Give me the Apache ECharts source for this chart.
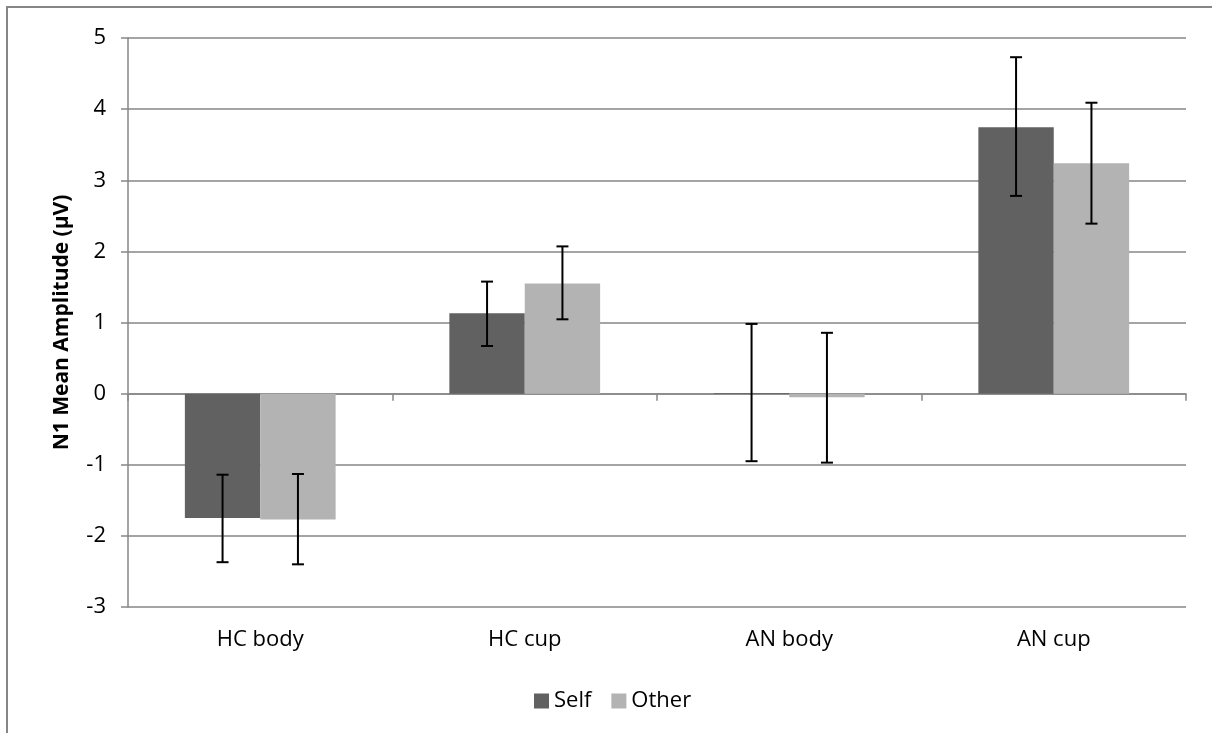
<!DOCTYPE html>
<html>
<head>
<meta charset="utf-8">
<script src="https://cdn.jsdelivr.net/npm/echarts@6/dist/echarts.min.js"></script>
<style>
html,body{margin:0;padding:0;background:#fff;}
#c{width:1212px;height:733px;}
</style>
</head>
<body>
<div id="c"></div>
<script>
const categories = ['HC body', 'HC cup', 'AN body', 'AN cup'];
const selfValues = [-1.75, 1.13, 0.01, 3.745];
const otherValues = [-1.77, 1.55, -0.05, 3.24];
const selfErrLow = [-2.37, 0.67, -0.95, 2.78];
const selfErrHigh = [-1.14, 1.575, 0.98, 4.73];
const otherErrLow = [-2.40, 1.045, -0.97, 2.39];
const otherErrHigh = [-1.13, 2.07, 0.855, 4.09];
const yTicks = [-3, -2, -1, 0, 1, 2, 3, 4, 5];

const FONT = '"Open Sans", "Noto Sans", sans-serif';
const FS = 22;
const GAP = 0.43;

function errSeries(name, lows, highs, side) {
  return {
    type: 'custom',
    name: name + ' err',
    z: 10,
    silent: true,
    data: lows.map((l, i) => [i, l, highs[i]]),
    renderItem: function (params, api) {
      const idx = api.value(0);
      const lo = api.coord([idx, api.value(1)]);
      const hi = api.coord([idx, api.value(2)]);
      const catW = api.size([1, 0])[0];
      const barW = catW * (1 - GAP) / 2;
      const x = lo[0] + side * barW / 2;
      const half = 6;
      const style = { stroke: '#000', lineWidth: 2 };
      return {
        type: 'group',
        children: [
          { type: 'line', shape: { x1: x, y1: lo[1], x2: x, y2: hi[1] }, style: style },
          { type: 'line', shape: { x1: x - half, y1: lo[1], x2: x + half, y2: lo[1] }, style: style },
          { type: 'line', shape: { x1: x - half, y1: hi[1], x2: x + half, y2: hi[1] }, style: style }
        ]
      };
    }
  };
}

const chart = echarts.init(document.getElementById('c'));
chart.setOption({
  animation: false,
  backgroundColor: '#fff',
  textStyle: { fontFamily: FONT },
  graphic: [{
    type: 'rect',
    shape: { x: 7, y: 7, width: 1230, height: 760 },
    style: { fill: 'none', stroke: '#868686', lineWidth: 2 },
    silent: true
  }],
  grid: { left: 128, right: 26, top: 38, bottom: 126, containLabel: false },
  legend: {
    data: [{ name: 'Self' }, { name: 'Other' }],
    left: 529,
    top: 685,
    itemWidth: 15,
    itemHeight: 15,
    itemGap: 20,
    icon: 'rect',
    textStyle: { fontFamily: FONT, fontSize: FS, color: '#000' }
  },
  xAxis: {
    type: 'category',
    data: categories,
    axisLine: { onZero: true, lineStyle: { color: '#868686', width: 1.5 } },
    axisTick: { show: true, length: 7, lineStyle: { color: '#868686', width: 1.5 } },
    axisLabel: { color: '#000', fontSize: FS, fontFamily: FONT, margin: 22 },
    splitLine: { show: false }
  },
  yAxis: {
    type: 'value',
    min: -3,
    max: 5,
    interval: 1,
    name: 'N1 Mean Amplitude (µV)',
    nameLocation: 'middle',
    nameGap: 55,
    nameTextStyle: { fontFamily: FONT, fontSize: 21, fontWeight: 'bold', color: '#000' },
    axisLine: { show: true, lineStyle: { color: '#868686', width: 1.5 } },
    axisTick: { show: true, length: 7, lineStyle: { color: '#868686', width: 1.5 } },
    axisLabel: { color: '#000', fontSize: FS, fontFamily: FONT, margin: 22,
      formatter: v => yTicks.includes(v) ? String(v) : '' },
    splitLine: { show: true, lineStyle: { color: '#868686', width: 1.5 } }
  },
  series: [
    { name: 'Self', type: 'bar', data: selfValues, barGap: '0%', barCategoryGap: '43%',
      itemStyle: { color: '#616161' } },
    { name: 'Other', type: 'bar', data: otherValues, barGap: '0%', barCategoryGap: '43%',
      itemStyle: { color: '#b3b3b3' } },
    errSeries('Self', selfErrLow, selfErrHigh, -1),
    errSeries('Other', otherErrLow, otherErrHigh, 1)
  ]
});
</script>
</body>
</html>
